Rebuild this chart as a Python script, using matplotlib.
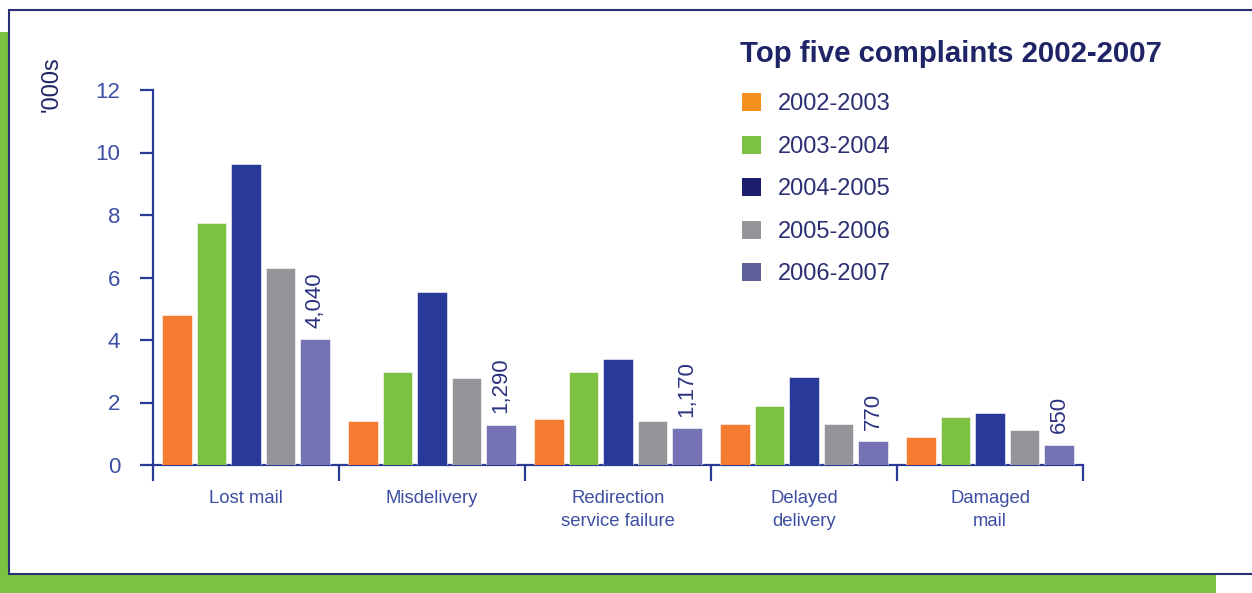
import numpy as np
import matplotlib
matplotlib.use("Agg")
import matplotlib.pyplot as plt
from matplotlib.patches import Rectangle, Patch

plt.rcParams['font.family'] = ['Liberation Sans', 'DejaVu Sans']

# data ('000s of complaints)
categories = ["Lost mail", "Misdelivery", "Redirection\nservice failure",
              "Delayed\ndelivery", "Damaged\nmail"]
years = ["2002-2003", "2003-2004", "2004-2005", "2005-2006", "2006-2007"]
v_0203 = [4.80, 1.41, 1.47, 1.31, 0.90]
v_0304 = [7.74, 2.98, 2.98, 1.89, 1.54]
v_0405 = [9.63, 5.54, 3.39, 2.82, 1.66]
v_0506 = [6.30, 2.78, 1.41, 1.31, 1.12]
v_0607 = [4.04, 1.29, 1.17, 0.77, 0.65]
labels_0607 = ["4,040", "1,290", "1,170", "770", "650"]

series = [v_0203, v_0304, v_0405, v_0506, v_0607]
bar_colors = ['#F47B30', '#7DC142', '#29399A', '#939598', '#7673B5']
legend_colors = ['#F7901E', '#7DC142', '#1C1F6E', '#939598', '#5E5E98']

navy = '#1E2466'
axis_blue = '#2B3A96'
text_blue = '#3D4EA3'

W, H = 1252, 593
fig = plt.figure(figsize=(W / 100, H / 100), dpi=100)

# green background strips and white panel
fig.patches.append(Rectangle((0, 0), 12 / W, 1 - 32 / H, transform=fig.transFigure,
                             facecolor='#7DC142', edgecolor='none', zorder=-3))
fig.patches.append(Rectangle((0, 0), 1216 / W, 20 / H, transform=fig.transFigure,
                             facecolor='#7DC142', edgecolor='none', zorder=-3))
fig.patches.append(Rectangle((8.5 / W, 1 - 573.5 / H), 1.0, (573.5 - 9.5) / H,
                             transform=fig.transFigure, facecolor='white',
                             edgecolor='#2B2F73', linewidth=1.5, zorder=-2))

ax = fig.add_axes([153 / W, 128 / H, 930 / W, 375 / H])
ax.set_facecolor('none')
ax.set_zorder(2)

x = np.arange(len(categories))
step = 0.1855
width = 0.156
for i, vals in enumerate(series):
    ax.bar(x + (i - 2) * step, vals, width=width, color=bar_colors[i],
           edgecolor='white', linewidth=0.4, zorder=3)

# value labels on the latest year
for xi, v, lab in zip(x, v_0607, labels_0607):
    ax.text(xi + 2 * step, v + 0.36, lab, rotation=90, ha='center', va='bottom',
            fontsize=16, color='#2B3380')

ax.set_xlim(-0.5, 4.5)
ax.set_ylim(0, 12)

for s in ['top', 'right']:
    ax.spines[s].set_visible(False)
for s in ['left', 'bottom']:
    ax.spines[s].set_color(axis_blue)
    ax.spines[s].set_linewidth(1.6)

ax.set_yticks(np.arange(0, 13, 2))
ax.tick_params(axis='y', direction='out', length=9.5, width=1.6, color=axis_blue,
               labelsize=16, labelcolor=text_blue, pad=14)

ax.set_xticks(np.arange(-0.5, 5, 1))
ax.set_xticklabels([])
ax.tick_params(axis='x', which='major', direction='out', length=11.5, width=1.6,
               color=axis_blue)
ax.set_xticks(x, minor=True)
ax.set_xticklabels(categories, minor=True, linespacing=1.45)
ax.tick_params(axis='x', which='minor', length=0, labelsize=13.3,
               labelcolor=text_blue, pad=18)

fig.text(52 / W, 1 - 56 / H, "'000s", rotation=90, ha='center', va='top',
         fontsize=17, color=navy)

fig.text(740 / W, 1 - 62 / H, "Top five complaints 2002-2007", ha='left',
         va='baseline', fontsize=21.2, fontweight='bold', color=navy)

handles = [Patch(facecolor=c, edgecolor='none') for c in legend_colors]
fig.legend(handles, years, loc='upper left', bbox_to_anchor=(742 / W, 1 - 93 / H),
           frameon=False, fontsize=17, labelcolor='#2B2F73', handlelength=0.8,
           handleheight=0.8, handletextpad=0.7, labelspacing=0.86,
           borderpad=0, borderaxespad=0)

fig.savefig('out.png', dpi=100)
